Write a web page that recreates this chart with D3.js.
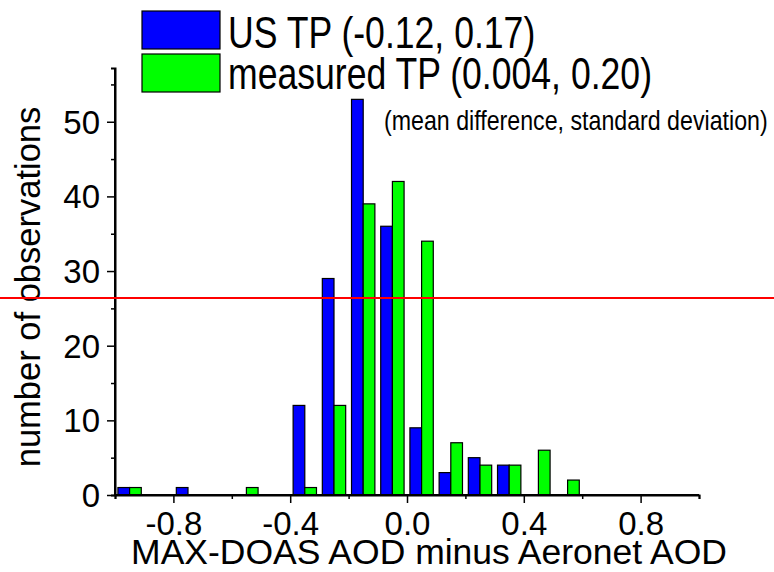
<!DOCTYPE html>
<html>
<head>
<meta charset="utf-8">
<script src="https://cdn.jsdelivr.net/npm/d3@7"></script>
<style>
html,body{margin:0;padding:0;background:#fff;}
svg text{font-family:"Liberation Sans", Arial, Helvetica, sans-serif;fill:#000;}
</style>
</head>
<body>
<svg id="chart" width="774" height="572"></svg>
<script>
// ---- data ----
const binCenters = [-0.95,-0.85,-0.75,-0.65,-0.55,-0.45,-0.35,-0.25,-0.15,-0.05,0.05,0.15,0.25,0.35,0.45,0.55,0.65,0.75,0.85,0.95];
const usTP       = [1,0,1,0,0,0,12,29,53,36,9,3,5,4,0,0,0,0,0,0];
const measuredTP = [1,0,0,0,1,0,1,12,39,42,34,7,4,4,6,2,0,0,0,0];
const seriesNames = ["US TP (-0.12, 0.17)", "measured TP (0.004, 0.20)"];
const seriesColors = ["#0000ff", "#00ff00"];
const xMajorTicks = [-0.8,-0.4,0.0,0.4,0.8];
const xMinorTicks = [-1.0,-0.6,-0.2,0.2,0.6,1.0];
const yMajorTicks = [0,10,20,30,40,50];
const yMinorTicks = [5,15,25,35,45,55];
const xTitle = "MAX-DOAS AOD minus Aeronet AOD";
const yTitle = "number of observations";
const noteText = "(mean difference, standard deviation)";
const refLineValue = 26.4;
const barHalf = 0.04;

const svg = d3.select("#chart");
const W = 774;
const x = d3.scaleLinear().domain([-1, 1]).range([115, 699]);
const y = d3.scaleLinear().domain([0, 57.2]).range([495, 68]);

// bars
const series = [usTP, measuredTP];
series.forEach((vals, si) => {
  const data = binCenters.map((c, i) => ({c, v: vals[i]})).filter(d => d.v > 0);
  svg.append("g").selectAll("rect").data(data).join("rect")
    .attr("x", d => si === 0 ? x(d.c - barHalf) : x(d.c))
    .attr("width", d => x(barHalf) - x(0))
    .attr("y", d => y(d.v))
    .attr("height", d => y(0) - y(d.v))
    .attr("fill", seriesColors[si])
    .attr("stroke", "#000")
    .attr("stroke-width", 1.2);
});

// axes
const xAxisMajor = d3.axisBottom(x).tickValues(xMajorTicks).tickSize(8).tickFormat(d3.format(".1f"));
const xAxisMinor = d3.axisBottom(x).tickValues(xMinorTicks).tickSize(4).tickFormat("");
const yAxisMajor = d3.axisLeft(y).tickValues(yMajorTicks).tickSize(8).tickFormat(d3.format("d"));
const yAxisMinor = d3.axisLeft(y).tickValues(yMinorTicks).tickSize(4).tickFormat("");

function styleAxis(g){
  g.select(".domain").attr("stroke","#000").attr("stroke-width",2);
  g.selectAll(".tick line").attr("stroke","#000").attr("stroke-width",1.5);
  g.selectAll(".tick text").attr("font-size", 33).attr("font-family", '"Liberation Sans", Arial, sans-serif').attr("fill","#000");
}
svg.append("g").attr("transform", `translate(0,${y(0)})`).call(xAxisMinor).call(styleAxis);
const gx = svg.append("g").attr("transform", `translate(0,${y(0)})`).call(xAxisMajor).call(styleAxis);
gx.selectAll(".tick text").attr("dy", null).attr("y", 40).text(d => d3.format(".1f")(d).replace("−","-"));
svg.append("g").attr("transform", `translate(${x(-1)},0)`).call(yAxisMinor).call(styleAxis);
const gy = svg.append("g").attr("transform", `translate(${x(-1)},0)`).call(yAxisMajor).call(styleAxis);
gy.selectAll(".tick text").attr("x", -15).attr("dy", "0.35em");
gx.select(".domain").attr("d", `M${x(-1)},0H${x(1)}`);
gy.select(".domain").attr("d", `M0,${y(57.2)}V${y(0)}`);

// titles
svg.append("text").attr("x", 429).attr("y", 564).attr("text-anchor","middle")
  .attr("font-size", 35.5).text(xTitle);
svg.append("text").attr("transform", `translate(40,287) rotate(-90)`).attr("text-anchor","middle")
  .attr("font-size", 34.5).text(yTitle);

// legend
const legY = [11, 54];
const legH = [38, 38];
const legBase = [48, 89];
series.forEach((s, i) => {
  svg.append("rect").attr("x", 142).attr("y", legY[i]).attr("width", 78).attr("height", legH[i])
    .attr("fill", seriesColors[i]).attr("stroke", "#000").attr("stroke-width", 1.2);
  svg.append("text").attr("transform", `translate(228,${legBase[i]}) scale(1,1.25)`)
    .attr("font-size", 35.6).text(seriesNames[i]);
});
svg.append("text").attr("transform", `translate(384,130) scale(1,1.2)`)
  .attr("font-size", 23.2).text(noteText);

// red reference line
svg.append("line").attr("x1", 0).attr("x2", W).attr("y1", y(refLineValue)).attr("y2", y(refLineValue))
  .attr("stroke", "#ff0000").attr("stroke-width", 2);
</script>
</body>
</html>
